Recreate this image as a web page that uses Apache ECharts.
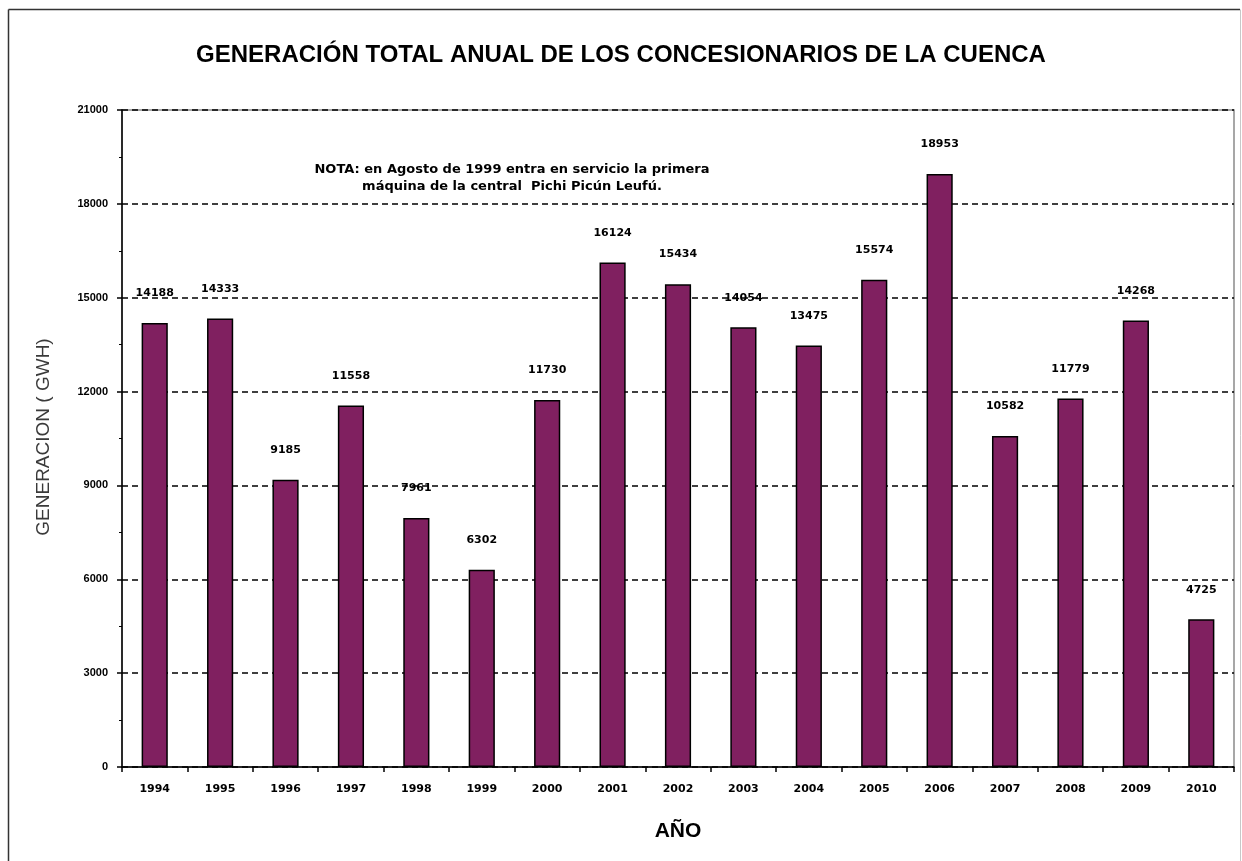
<!DOCTYPE html>
<html>
<head>
<meta charset="utf-8">
<script src="https://cdn.jsdelivr.net/npm/echarts@6/dist/echarts.min.js"></script>
<style>
  html, body { margin: 0; padding: 0; background: #ffffff; }
  #chart { width: 1242px; height: 861px; }
</style>
</head>
<body>
<div id="chart"></div>
<script>
// Annual generation of the basin concessionaires (GWh)
const years = ['1994', '1995', '1996', '1997', '1998', '1999', '2000', '2001', '2002',
  '2003', '2004', '2005', '2006', '2007', '2008', '2009', '2010'];
const generation = [14188, 14333, 9185, 11558, 7961, 6302, 11730, 16124, 15434,
  14054, 13475, 15574, 18953, 10582, 11779, 14268, 4725];

const titleText = 'GENERACIÓN TOTAL ANUAL DE LOS CONCESIONARIOS DE LA CUENCA';
const noteLines = [
  'NOTA: en Agosto de 1999 entra en servicio la primera',
  'máquina de la central  Pichi Picún Leufú.'
];
const yAxisTitle = 'GENERACION ( GWH)';
const xAxisTitle = 'AÑO';

const chart = echarts.init(document.getElementById('chart'), null, { renderer: 'canvas' });

const sansFont = 'Liberation Sans, Arial, sans-serif';
const wideFont = 'DejaVu Sans, Verdana, sans-serif';

chart.setOption({
  backgroundColor: '#ffffff',
  animation: false,
  title: {
    text: titleText,
    left: 'center',
    top: 38,
    textStyle: {
      fontFamily: sansFont,
      fontWeight: 'bold',
      fontSize: 24,
      color: '#000000'
    }
  },
  graphic: [
    // outer frame of the chart
    { type: 'line', shape: { x1: 8.5, y1: 9.5, x2: 1240, y2: 9.5 }, style: { stroke: '#333333', lineWidth: 1.5 } },
    { type: 'line', shape: { x1: 8.5, y1: 9.5, x2: 8.5, y2: 861 }, style: { stroke: '#333333', lineWidth: 1.5 } },
    { type: 'line', shape: { x1: 1240.5, y1: 9.5, x2: 1240.5, y2: 861 }, style: { stroke: '#c8c8c8', lineWidth: 1 } },
    {
      type: 'text',
      x: 512,
      y: 161,
      style: {
        text: noteLines.join('\n'),
        fontFamily: wideFont,
        fontWeight: 'bold',
        fontSize: 13,
        lineHeight: 17,
        align: 'center',
        verticalAlign: 'top',
        fill: '#000000'
      },
      silent: true
    },
    {
      type: 'text',
      x: 44,
      y: 437,
      rotation: Math.PI / 2,
      style: {
        text: yAxisTitle,
        fontFamily: sansFont,
        fontSize: 19,
        align: 'center',
        verticalAlign: 'middle',
        fill: '#3a3a3a'
      },
      silent: true
    }
  ],
  grid: {
    left: 122,
    right: 8,
    top: 110,
    bottom: 94,
    show: true,
    borderColor: '#8a8a8a',
    borderWidth: 1.5,
    backgroundColor: '#ffffff'
  },
  xAxis: {
    type: 'category',
    data: years,
    name: xAxisTitle,
    nameLocation: 'middle',
    nameGap: 54,
    nameTextStyle: {
      fontFamily: sansFont,
      fontWeight: 'bold',
      fontSize: 21,
      color: '#000000'
    },
    axisLine: { lineStyle: { color: '#000000', width: 1.5 } },
    axisTick: { show: true, alignWithLabel: false, length: 5, lineStyle: { color: '#000000', width: 1.5 } },
    axisLabel: {
      margin: 17,
      fontFamily: wideFont,
      fontWeight: 'bold',
      fontSize: 11,
      color: '#000000'
    }
  },
  yAxis: {
    type: 'value',
    min: 0,
    max: 21000,
    interval: 3000,
    axisLine: { show: true, lineStyle: { color: '#000000', width: 1.5 } },
    axisTick: { show: true, length: 5, lineStyle: { color: '#000000', width: 1.5 } },
    minorTick: { show: true, splitNumber: 2, length: 3, lineStyle: { color: '#000000' } },
    axisLabel: {
      margin: 14,
      fontFamily: sansFont,
      fontWeight: 'bold',
      fontSize: 11,
      color: '#000000',
      formatter: v => String(v)
    },
    splitLine: {
      show: true,
      lineStyle: { color: '#000000', type: [6, 4], width: 1.5 }
    }
  },
  series: [{
    type: 'bar',
    data: generation,
    barCategoryGap: '60%',
    itemStyle: {
      color: '#802060',
      borderColor: '#000000',
      borderWidth: 1.5
    },
    label: {
      show: true,
      position: 'top',
      distance: 24,
      fontFamily: wideFont,
      fontWeight: 'bold',
      fontSize: 11,
      color: '#000000'
    }
  }]
});
</script>
</body>
</html>
